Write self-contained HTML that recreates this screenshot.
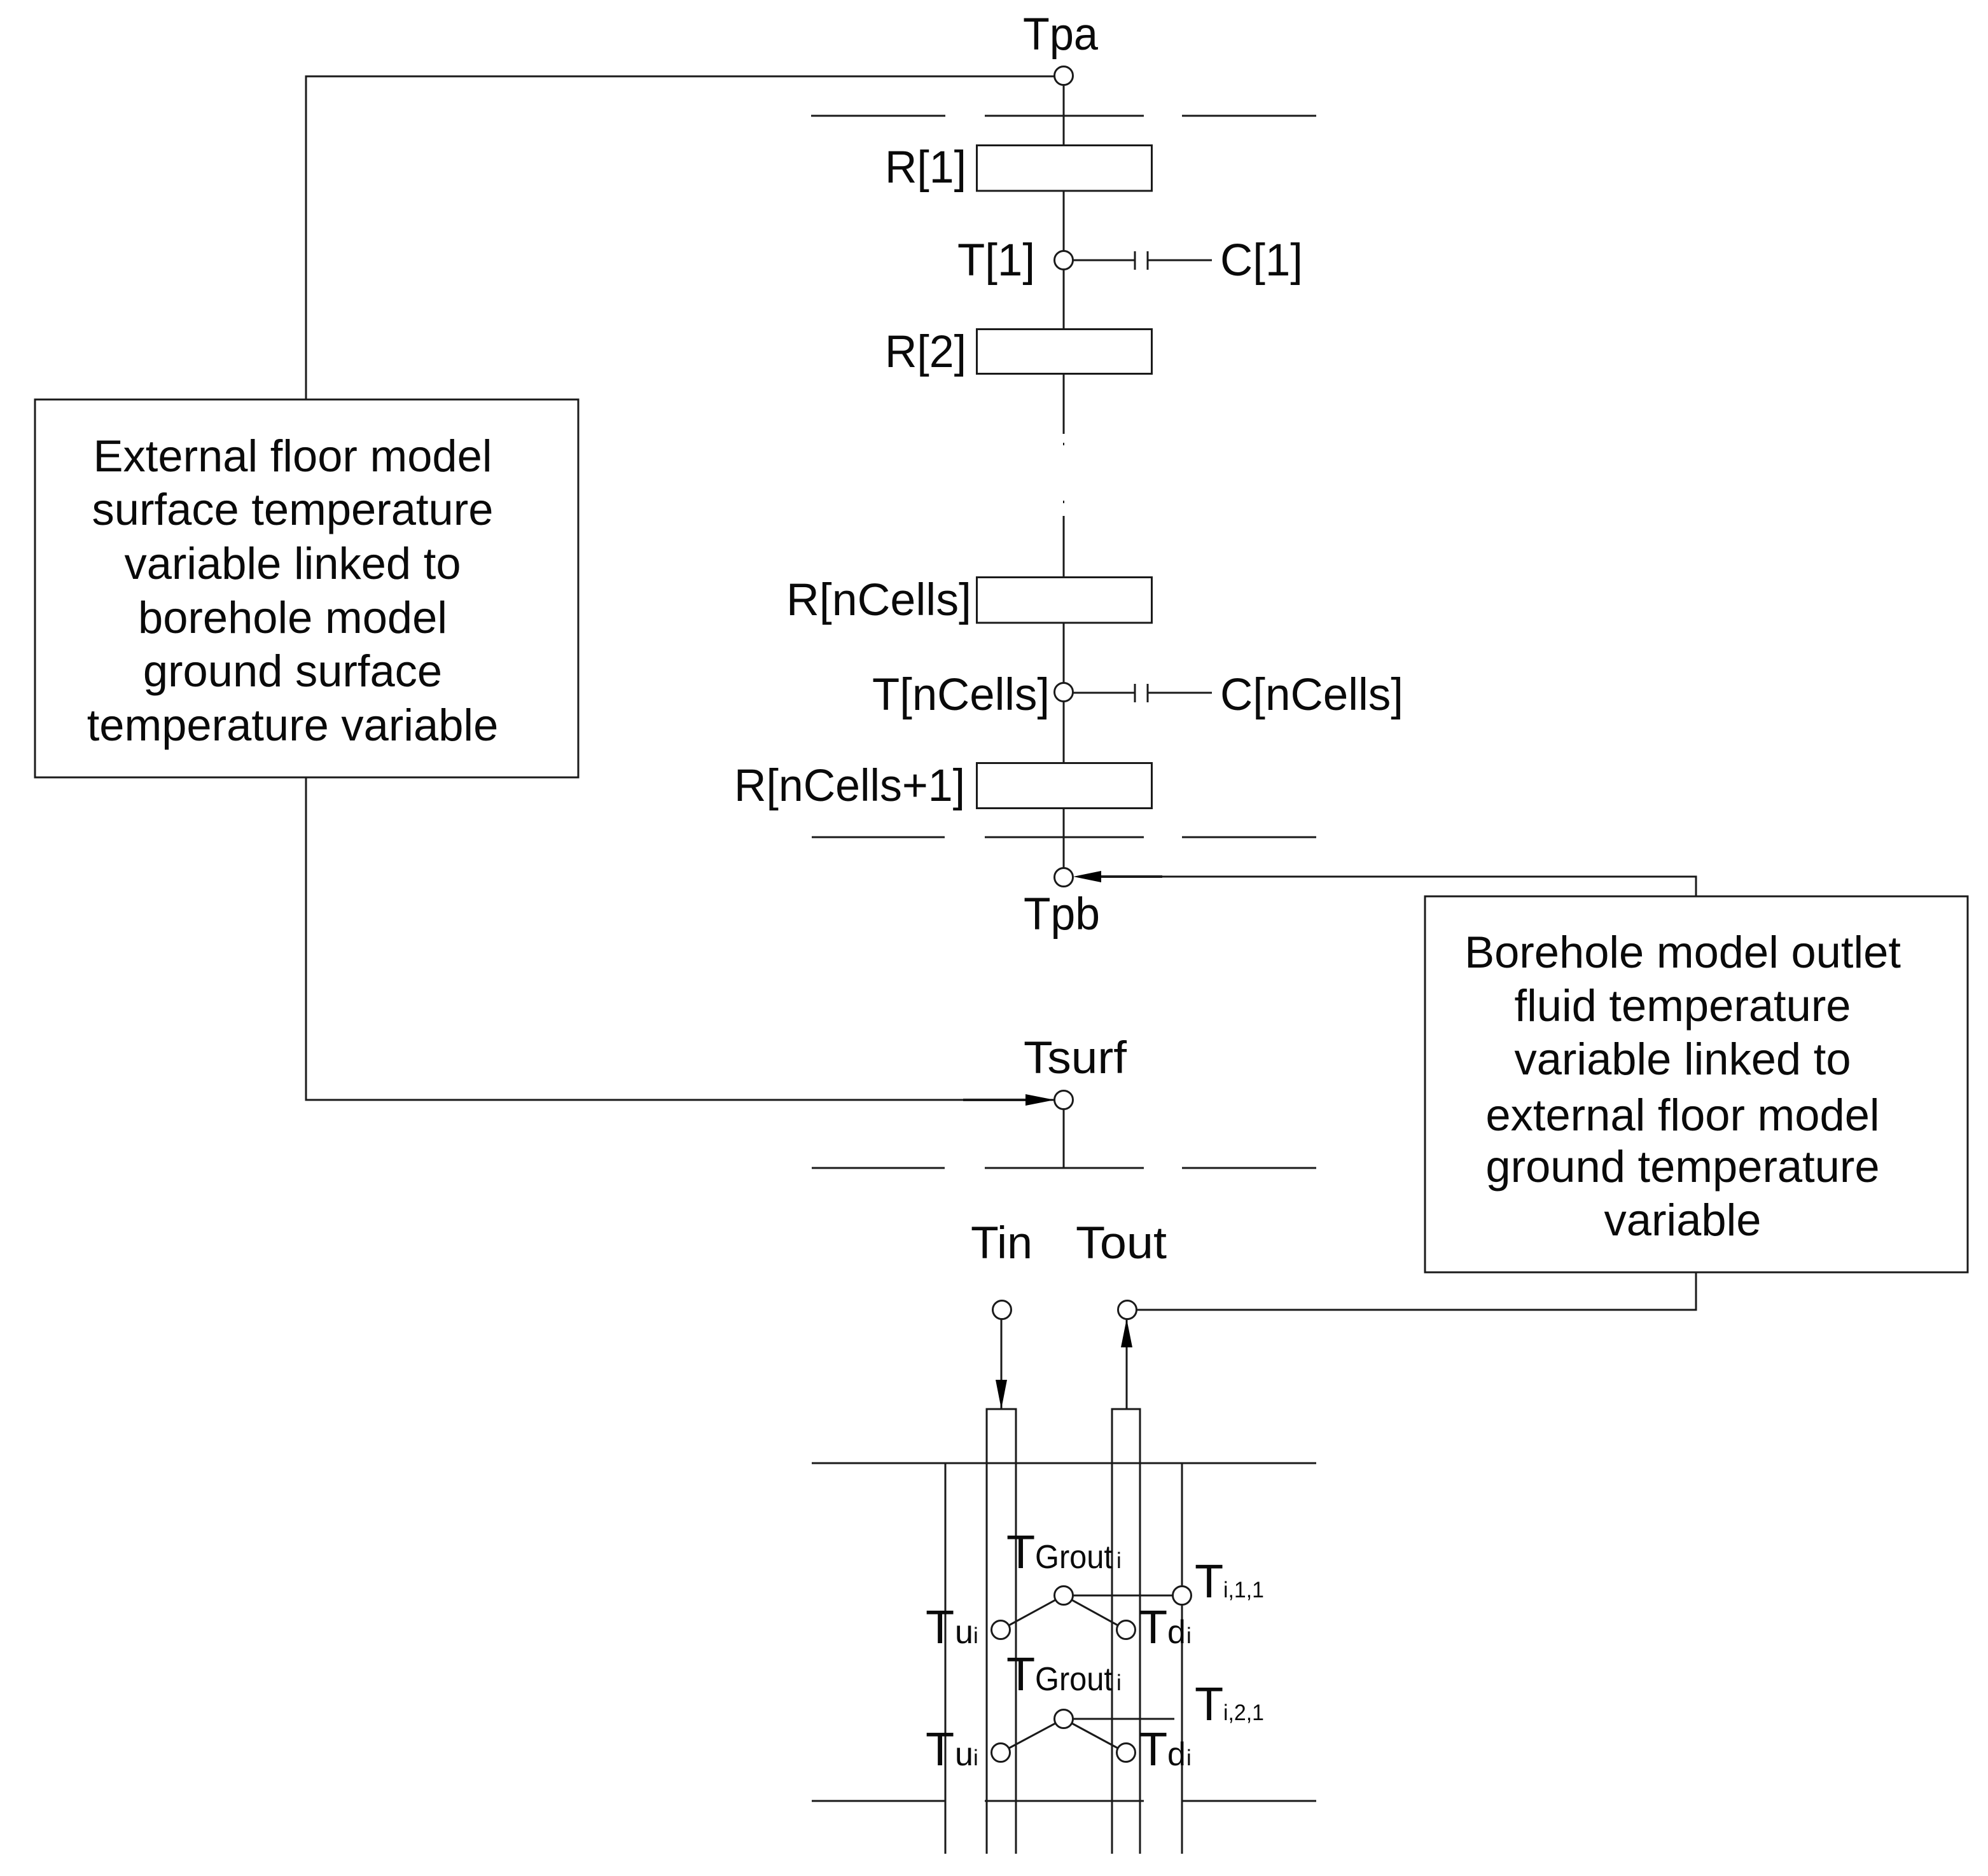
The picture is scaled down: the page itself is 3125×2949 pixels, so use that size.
<!DOCTYPE html>
<html><head><meta charset="utf-8"><style>
html,body{margin:0;padding:0;background:#fff}
svg{display:block}
text{font-family:"Liberation Sans",Arial,sans-serif;fill:#0a0a0a}
.m{font-size:71px}
.g{font-size:52px}
.s{font-size:35px}
.b{font-size:70.500px;text-anchor:middle}
.t{font-size:74px}
</style></head><body>
<svg width="3125" height="2949" viewBox="0 0 3125 2949" xmlns="http://www.w3.org/2000/svg">
<rect width="3125" height="2949" fill="#fff"/>
<g fill="none" stroke="#1a1a1a" stroke-width="3">
<path d="M1672 120V228M1672 300V395M1672 423V517M1672 587V682M1672 811V907M1672 979V1073M1672 1101V1199M1672 1270V1365M1672 1743V1836"/>
<path d="M1672 696v4M1672 787v4" stroke-width="2"/>
<path d="M1275 182H1486M1548 182H1798M1858 182H2069"/>
<path d="M1276 1316H1485M1548 1316H1798M1858 1316H2069"/>
<path d="M1276 1836H1485M1548 1836H1798M1858 1836H2069"/>
<rect x="1535.500" y="228.500" width="275" height="71.500" fill="#fff"/>
<rect x="1535.500" y="517.500" width="275" height="70" fill="#fff"/>
<rect x="1535.500" y="907.500" width="275" height="71.500" fill="#fff"/>
<rect x="1535.500" y="1199.500" width="275" height="71" fill="#fff"/>
<path d="M1686 409H1784M1784 395V424M1804 395V424M1804 409H1905"/>
<path d="M1686 1089H1784M1784 1075V1104M1804 1075V1104M1804 1089H1905"/>
<path d="M481 628V120H1658"/>
<path d="M481 1222V1729H1658"/>
<path d="M1514 1729H1612" stroke-width="4"/>
<path d="M1700 1378H2666V1409"/>
<path d="M1731 1378H1827" stroke-width="4"/>
<path d="M1786 2059H2666V1999"/>
<rect x="55" y="628" width="854" height="594" fill="#fff"/>
<rect x="2240" y="1409" width="853" height="591" fill="#fff"/>
<path d="M1574 2073V2215M1771 2073V2215"/>
<path d="M1551 2914V2215H1597V2914M1748 2914V2215H1792V2914"/>
<path d="M1276 2300H2069M1486 2300V2914M1858 2300V2914"/>
<path d="M1276 2831H1486M1548 2831H1798M1858 2831H2069"/>
<path d="M1672 2508H1858M1672 2702H1846"/>
<path d="M1573 2562L1672 2508L1770 2562M1573 2755L1672 2702L1770 2755"/>
</g>
<g fill="#000" stroke="none">
<path d="M1687 1378L1731 1369V1387Z"/>
<path d="M1658 1729L1612 1720V1738Z"/>
<path d="M1574 2215L1565 2169H1583Z"/>
<path d="M1771 2073L1762 2118H1780Z"/>
</g>
<g fill="#fff" stroke="#1a1a1a" stroke-width="3">
<circle cx="1672" cy="119" r="14.500"/>
<circle cx="1672" cy="409" r="14.500"/>
<circle cx="1672" cy="1088" r="14.500"/>
<circle cx="1672" cy="1379" r="14.500"/>
<circle cx="1672" cy="1729" r="14.500"/>
<circle cx="1575" cy="2059" r="14.500"/>
<circle cx="1772" cy="2059" r="14.500"/>
<circle cx="1672" cy="2508" r="14.500"/>
<circle cx="1858" cy="2508" r="14.500"/>
<circle cx="1573" cy="2562" r="14.500"/>
<circle cx="1770" cy="2562" r="14.500"/>
<circle cx="1672" cy="2702" r="14.500"/>
<circle cx="1573" cy="2755" r="14.500"/>
<circle cx="1770" cy="2755" r="14.500"/>
</g>
<text class="m" x="1608" y="78" textLength="118" lengthAdjust="spacingAndGlyphs">Tpa</text>
<text class="m" x="1391" y="287" textLength="128" lengthAdjust="spacingAndGlyphs">R[1]</text>
<text class="m" x="1505" y="433" textLength="122" lengthAdjust="spacingAndGlyphs">T[1]</text>
<text class="m" x="1918" y="433" textLength="130" lengthAdjust="spacingAndGlyphs">C[1]</text>
<text class="m" x="1391" y="577" textLength="128" lengthAdjust="spacingAndGlyphs">R[2]</text>
<text class="m" x="1236" y="967" textLength="291" lengthAdjust="spacingAndGlyphs">R[nCells]</text>
<text class="m" x="1371" y="1116" textLength="279" lengthAdjust="spacingAndGlyphs">T[nCells]</text>
<text class="m" x="1918" y="1116" textLength="288" lengthAdjust="spacingAndGlyphs">C[nCells]</text>
<text class="m" x="1154" y="1259" textLength="363" lengthAdjust="spacingAndGlyphs">R[nCells+1]</text>
<text class="m" x="1609" y="1461" textLength="120" lengthAdjust="spacingAndGlyphs">Tpb</text>
<text class="m" x="1609" y="1687" textLength="162" lengthAdjust="spacingAndGlyphs">Tsurf</text>
<text class="m" x="1526" y="1978" textLength="97" lengthAdjust="spacingAndGlyphs">Tin</text>
<text class="m" x="1691" y="1978" textLength="143" lengthAdjust="spacingAndGlyphs">Tout</text>
<text class="b" x="460" y="741">External floor model</text>
<text class="b" x="460" y="825">surface temperature</text>
<text class="b" x="460" y="910">variable linked to</text>
<text class="b" x="460" y="995">borehole model</text>
<text class="b" x="460" y="1079">ground surface</text>
<text class="b" x="460" y="1164">temperature variable</text>
<text class="b" x="2645" y="1521">Borehole model outlet</text>
<text class="b" x="2645" y="1605">fluid temperature</text>
<text class="b" x="2645" y="1689">variable linked to</text>
<text class="b" x="2645" y="1777">external floor model</text>
<text class="b" x="2645" y="1858">ground temperature</text>
<text class="b" x="2645" y="1942">variable</text>
<text class="t" x="1582" y="2465">T</text><text class="g" x="1627" y="2465" textLength="122" lengthAdjust="spacingAndGlyphs">Grout</text><text class="s" x="1755" y="2465">i</text>
<text class="t" x="1582" y="2657">T</text><text class="g" x="1627" y="2657" textLength="122" lengthAdjust="spacingAndGlyphs">Grout</text><text class="s" x="1755" y="2657">i</text>
<text class="t" x="1878" y="2511">T</text><text class="s" x="1923" y="2511" textLength="64" lengthAdjust="spacingAndGlyphs">i,1,1</text>
<text class="t" x="1878" y="2704">T</text><text class="s" x="1923" y="2704" textLength="64" lengthAdjust="spacingAndGlyphs">i,2,1</text>
<text class="t" x="1455" y="2583">T</text><text class="g" x="1501" y="2583">u</text><text class="s" x="1530" y="2583">i</text>
<text class="t" x="1790" y="2583">T</text><text class="g" x="1835" y="2583">d</text><text class="s" x="1865" y="2583">i</text>
<text class="t" x="1455" y="2775">T</text><text class="g" x="1501" y="2775">u</text><text class="s" x="1530" y="2775">i</text>
<text class="t" x="1790" y="2775">T</text><text class="g" x="1835" y="2775">d</text><text class="s" x="1865" y="2775">i</text>
</svg>
</body></html>
